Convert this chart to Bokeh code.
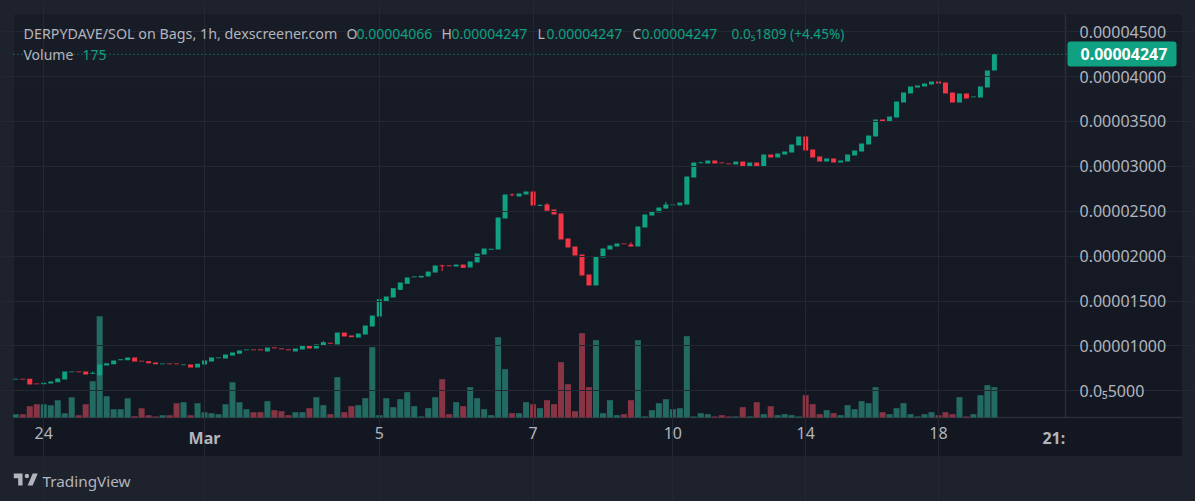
from bokeh.embed import file_html
from bokeh.resources import INLINE
from bokeh.plotting import figure
from bokeh.models import (ColumnDataSource, FixedTicker, LinearAxis, Range1d, Label,
                          BoxAnnotation, PolyAnnotation)

# ---- data: prices in units of 1e-8 SOL ----
opens = [625,635,633,582,574,581,596,626,706,716,715,691,674,782,796,840,841,871,835,830,815,795,805,805,784,793,
         759,793,826,862,860,893,912,951,961,961,938,983,972,961,938,960,1004,971,1004,1035,1016,1149,1116,1093,
         1127,1216,1327,1498,1539,1624,1691,1764,1762,1773,1817,1897,1897,1884,1906,1873,1929,2018,2072,2074,2419,
         2687,2664,2686,2719,2562,2575,2519,2474,2196,2107,2018,1795,1673,1984,2073,2107,2141,2129,2107,2318,2452,
         2486,2530,2565,2563,2575,2875,3033,3031,3064,3043,3032,3020,3053,2998,3042,2998,3131,3098,3131,3154,3232,
         3332,3187,3109,3053,3087,3042,3053,3120,3165,3243,3332,3521,3495,3543,3710,3811,3877,3889,3911,3944,3933,
         3822,3710,3811,3768,3766,3877,4066]
closes = [635,625,570,572,589,603,637,715,716,706,681,701,793,808,837,850,871,826,825,807,796,805,795,795,794,759,
          800,837,871,872,904,926,949,961,951,951,982,973,962,951,971,1004,971,1016,1041,1025,1149,1105,1097,1138,
          1227,1338,1520,1550,1643,1706,1762,1774,1780,1828,1895,1887,1887,1906,1869,1940,2029,2085,2082,2430,2686,
          2677,2697,2719,2563,2572,2504,2463,2185,2096,2007,1784,1673,2000,2085,2118,2140,2131,2107,2330,2463,2497,
          2541,2575,2575,2597,2886,3042,3043,3064,3031,3033,3022,3053,2998,3042,2998,3131,3098,3143,3165,3243,3332,
          3176,3098,3053,3087,3042,3064,3131,3176,3254,3343,3521,3495,3555,3722,3822,3889,3900,3922,3944,3922,3811,
          3710,3811,3755,3778,3889,4067,4247]
wick_index = [11,12,44,61,71,75,76,88,93,98,132]
wick_high = [712,793,1053,1903,2697,2572,2590,2155,2604,3053,3955]
wick_low = [690,659,1004,1832,2667,2556,2504,2107,2530,3033,3922]
volumes = [10,10,34,40,40,37,52,13,61,7,40,109,304,64,25,25,58,4,28,7,3,7,7,43,46,7,43,16,13,10,40,106,46,25,16,16,
           49,22,19,7,16,16,28,61,37,10,121,16,34,37,58,211,7,58,31,55,76,34,3,28,61,115,10,46,34,91,58,25,7,241,145,
           13,13,46,40,28,52,40,166,100,19,253,91,232,13,52,7,10,52,232,3,22,43,55,25,28,244,3,13,10,3,7,3,3,31,3,46,
           10,34,7,10,7,3,67,40,10,22,13,7,37,25,49,43,91,16,10,28,43,10,3,10,16,7,16,10,61,3,10,67,97,91]
last_price = 4247

price_ticks = [500,1000,1500,2000,2500,3000,3500,4000,4500]
price_labels = ["0.0₅5000","0.00001000","0.00001500","0.00002000","0.00002500","0.00003000","0.00003500","0.00004000","0.00004500"]
time_ticks = [4,52,74,94,113,132]
time_labels = ["24","5","7","10","14","18"]
bold_ticks = [27,148.5]
bold_labels = ["Mar","21:"]
grid_time_ticks = [4,27,52,74,94,113,132]

title_text = "DERPYDAVE/SOL on Bags, 1h, dexscreener.com"
ohlc_letters = ["O","H","L","C"]
ohlc_values = ["0.00004066","0.00004247","0.00004247","0.00004247"]
change_text = "0.0₅1809 (+4.45%)"
volume_name = "Volume"
volume_value = "175"
last_label = "0.00004247"
brand = "TradingView"

# ---- style ----
OUTER = "#1e222d"
GRID = "#242833"
EDGE = "#2a2e39"
TEXT = "#b2b5be"
UP = "#0fa181"
DOWN = "#f23645"
UP_VOL = "#236a62"
DOWN_VOL = "#873445"
FONT = "Noto Sans"

# ---- scales: the frame covers the whole page; one bar every 6.99 px, 44.9 px per 500 price units
W, H = 1195, 501
BAR_PX, BAR0_PX = 6.99, 15.3
PRICE_PER_PX, Y_4000 = 500 / 44.9, 76
def x_at(px):
    return (px - BAR0_PX) / BAR_PX
def y_at(py):
    return 4000 + (Y_4000 - py) * PRICE_PER_PX

PANEL_L, PANEL_R, PANEL_T, PANEL_B = 13, 1182, 13, 456
SPLIT_X, SPLIT_Y = 1065, 417

n = len(opens)
xs = list(range(n))
is_up = [c >= o for o, c in zip(opens, closes)]
src = ColumnDataSource(dict(
    x=xs, open=opens, close=closes, vol=volumes,
    body=[UP if u else DOWN for u in is_up],
    volc=[UP_VOL if u else DOWN_VOL for u in is_up]))

p = figure(width=W, height=H, frame_width=W, frame_height=H,
           output_backend="svg", toolbar_location=None,
           x_range=Range1d(x_at(0), x_at(W)), y_range=Range1d(y_at(H), y_at(0)),
           x_axis_location="below", y_axis_location=None,
           min_border_left=0, min_border_top=0, min_border_right=0, min_border_bottom=0)
p.border_fill_color = OUTER
p.background_fill_color = OUTER
p.outline_line_color = None
p.extra_y_ranges = {"vol": Range1d(-(H - SPLIT_Y) * 3, SPLIT_Y * 3)}

CANVAS = dict(left_units="canvas", right_units="canvas", top_units="canvas", bottom_units="canvas")

# stepped gradient of the chart panel
shades = ["#181c27", "#171b26", "#161a25", "#151924", "#141823", "#131722"]
step = (PANEL_B - PANEL_T) / len(shades)
for k, col in enumerate(shades):
    p.add_layout(BoxAnnotation(left=PANEL_L, right=PANEL_R,
                               top=PANEL_T + k * step, bottom=PANEL_T + (k + 1) * step + (1 if k < 5 else 0),
                               fill_color=col, fill_alpha=1, line_color=None, level="underlay", **CANVAS))
p.add_layout(BoxAnnotation(left=PANEL_L, right=PANEL_R, top=PANEL_T, bottom=PANEL_B,
                           fill_alpha=0, line_color=EDGE, line_width=1.5, level="underlay", **CANVAS))

def style_axis(ax, standoff, weight="normal"):
    ax.axis_line_color = None
    ax.major_tick_line_color = None
    ax.minor_tick_line_color = None
    ax.major_tick_in = 0
    ax.major_tick_out = 0
    ax.major_label_text_color = TEXT
    ax.major_label_text_font = FONT
    ax.major_label_text_font_size = "16px"
    ax.major_label_text_font_style = weight
    ax.major_label_standoff = standoff

# axes, placed in the frame
xa = p.xaxis[0]
xa.ticker = FixedTicker(ticks=time_ticks)
xa.major_label_overrides = dict(zip(time_ticks, time_labels))
xa.fixed_location = y_at(SPLIT_Y)
style_axis(xa, 9)

xb = LinearAxis(ticker=FixedTicker(ticks=bold_ticks), major_label_overrides=dict(zip(bold_ticks, bold_labels)),
                fixed_location=y_at(SPLIT_Y))
style_axis(xb, 9, "bold")
p.add_layout(xb, "below")

ya = LinearAxis(ticker=FixedTicker(ticks=price_ticks), major_label_overrides=dict(zip(price_ticks, price_labels)),
                fixed_location=x_at(SPLIT_X))
style_axis(ya, 14)
p.add_layout(ya, "right")

# grid, limited to the price pane
p.xgrid[0].ticker = FixedTicker(ticks=grid_time_ticks)
p.ygrid[0].ticker = FixedTicker(ticks=price_ticks)
p.xgrid[0].bounds = (y_at(SPLIT_Y), y_at(PANEL_T))
p.ygrid[0].bounds = (x_at(PANEL_L), x_at(SPLIT_X))
for g in (p.xgrid[0], p.ygrid[0]):
    g.grid_line_color = GRID
    g.grid_line_width = 1
    g.level = "glyph"

# separators of price scale and time scale
p.segment([x_at(SPLIT_X), x_at(PANEL_L)], [y_at(PANEL_T), y_at(SPLIT_Y)],
          [x_at(SPLIT_X), x_at(PANEL_R)], [y_at(SPLIT_Y), y_at(SPLIT_Y)], line_color=EDGE, line_width=1.5)

# marks
p.vbar(x="x", width=0.86, bottom=0, top="vol", y_range_name="vol", source=src,
       fill_color="volc", line_color=None)
wick_colors = [UP if is_up[i] else DOWN for i in wick_index]
p.segment(wick_index, wick_high, wick_index, wick_low, line_color=wick_colors, line_width=1)
p.vbar(x="x", width=0.715, bottom="open", top="close", source=src, fill_color="body", line_color=None)

# last price line
p.line([x_at(PANEL_L), x_at(1067)], [last_price, last_price], line_color=UP, line_width=1, line_dash=[1, 3])


def text(t, x, y, color=TEXT, size="14px", style="normal", align="left"):
    p.add_layout(Label(x=x, y=y, x_units="canvas", y_units="canvas", text=t, text_color=color,
                       text_font=FONT, text_font_size=size, text_font_style=style,
                       text_baseline="middle", text_align=align))


# legend
text(title_text, 23, 33, size="14.3px")
for letter, value, lx, vx in zip(ohlc_letters, ohlc_values, [346, 441, 537, 632], [356, 451, 546, 641]):
    text(letter, lx, 33)
    text(value, vx, 33, color=UP)
text(change_text, 731, 33, color=UP, size="13.6px")
text(volume_name, 23, 54)
text(volume_value, 82, 54, color=UP)

# last price tag
p.add_layout(BoxAnnotation(left=1067, right=1176, top=41, bottom=66,
                           fill_color=UP, fill_alpha=1, line_color=None, border_radius=3, level="annotation", **CANVAS))
text(last_label, 1080, 53.5, color="#ffffff", size="16px", style="bold")

# TradingView mark
def logo(xy):
    return PolyAnnotation(xs=[13.3 + (a - 2) * 0.727 for a, b in xy], ys=[473 + (b - 6) * 0.8 for a, b in xy],
                          xs_units="canvas", ys_units="canvas", fill_color=TEXT, fill_alpha=1, line_color=None)


p.add_layout(logo([(14, 6), (2, 6), (2, 12), (8, 12), (8, 21), (14, 21)]))
p.add_layout(logo([(28, 21), (21, 21), (28, 6), (35, 6)]))
p.add_layout(logo([(18, 6.5), (22, 6.5), (23, 9), (22, 11.5), (18, 11.5), (17, 9)]))
text(brand, 42, 480, size="15.3px")

html = file_html(p, INLINE)
html = html.replace("<head>", "<head><style>html,body{background:" + OUTER + ";}</style>", 1)
open("out.html", "w").write(html)
